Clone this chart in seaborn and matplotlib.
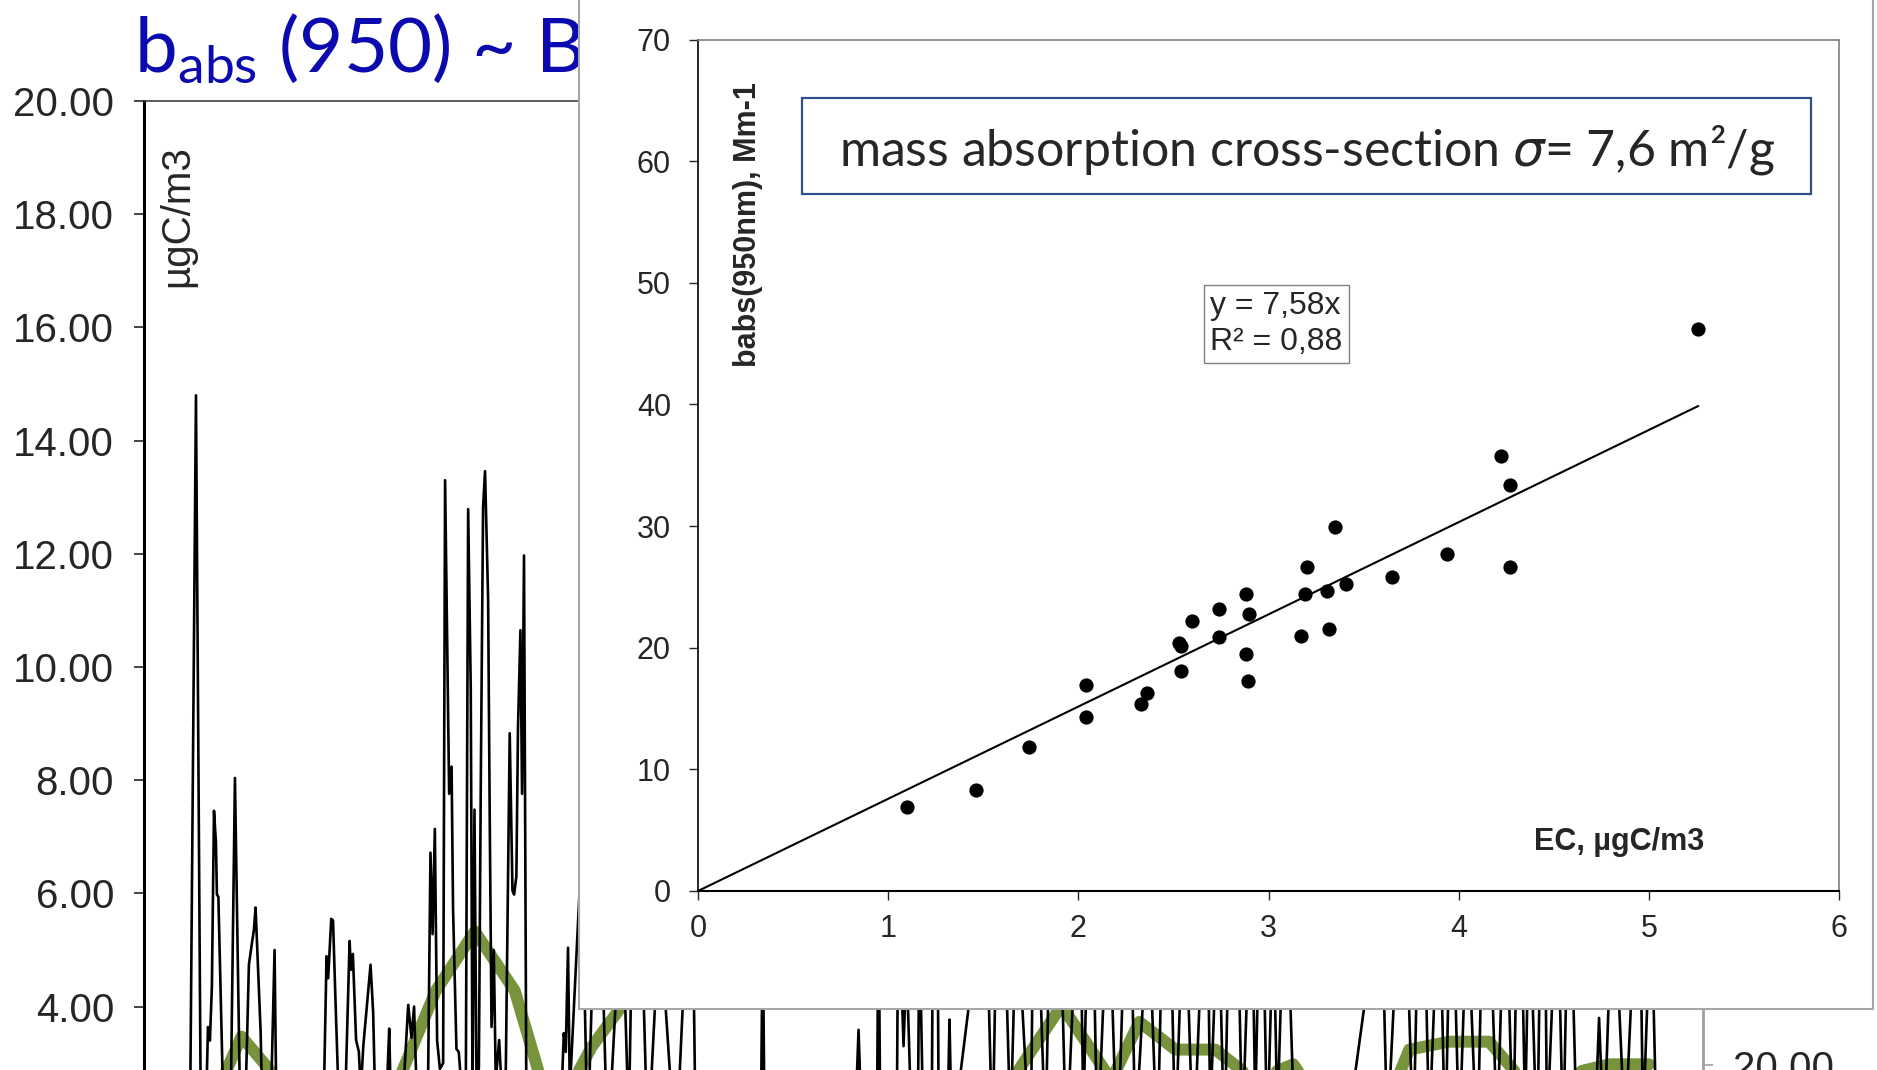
import numpy as np
import pandas as pd
import matplotlib
matplotlib.use("Agg")
import matplotlib.pyplot as plt
from matplotlib.patches import Rectangle
import seaborn as sns

# ---- background time series (hours since start), ugC/m3 ----
black_hr = [0, 14, 28.3, 32, 35.1, 38.2, 39.4, 40.6, 41.8, 43.1, 44.3, 44.9, 45.8, 49.2, 51.7,
            53.5, 56, 59.4, 62.2, 64.6, 66.5, 67.7, 68.7, 71.8, 73.2, 77.5, 80.4, 81.8, 89.8,
            102.2, 110.8, 112.4, 113.4, 115.3, 116.4, 117.9, 119.5, 123.1, 126.6, 127.4, 128.6,
            130.6, 132.3, 133.5, 135, 139.5, 141.1, 142.8, 148.3, 151, 152.6, 157.5, 162.7, 164.7,
            166.3, 168.6, 172.9, 175, 176.4, 177.7, 179.1, 180.5, 182.2, 184.2, 185.4, 186.7,
            187.9, 189.4, 190.3, 192.4, 193.8, 195.7, 198.2, 199.6, 201.2, 202.3, 203.5, 204.7,
            206.2, 207.4, 208.8, 210, 211.9, 212.9, 214, 215.4, 216.6, 218.7, 220.3, 222.8, 225.2,
            226.9, 227.9, 229.3, 230.3, 231.8, 232.8, 234, 235.5, 240.6, 249.8, 257.2, 258.5,
            259.7, 261.1, 262.2,
            269.5, 273.2, 279.4, 285.5, 294.2, 298.5, 302.8, 310.2, 317.5, 327.4, 337.2, 339.7,
            350, 365, 379.7, 381, 382.3, 410, 437.5, 440, 442.5, 451.3, 452.3, 453.5, 463.5,
            464.5, 467.7, 469.6, 472.6, 476.5, 477.5, 480, 485, 486, 488.5, 489.5, 494.5, 496,
            497.5,
            518.2, 522.5, 526.8, 533.6, 537.3, 545.9, 548.3, 555.1, 560.6, 568, 576, 578.5, 582.8,
            587.1, 593.9, 599.4, 606.2, 610.5, 618.5, 624, 629.6, 635.1, 640.6, 646.2, 654.2,
            656.6, 661.5, 665.3, 670.8, 676.3, 681.9, 684.3, 688, 691.7, 695.4, 697.9, 702.8,
            708.9, 720, 740,
            761.9, 765.6, 775.4, 781.6, 786.5, 791.4, 797.6, 801.3, 805, 809.9, 814.8, 821, 825.9,
            833.3, 838.2, 843.1, 846.8, 850.5, 853, 857.9, 861.6, 864, 870.2, 873.9, 877.6, 882.5,
            893, 896, 899, 904.6, 912, 920.6, 923.1, 928, 931.7, 933]
black_val = [1.3, 1.1, 1.8, 14.8, 1.5, 2.2, 3.64, 3.4, 4.35, 7.46, 6.9, 5.98, 5.94, 1.8, 1.5,
             2.5, 8.04, 1.8, 2.0, 4.74, 5.13, 5.36, 5.75, 3.57, 1.8, 1.5, 5.0, 1.5, 1.2,
             1.0, 2.5, 4.89, 4.5, 5.55, 5.52, 4.12, 2.7, 1.5, 5.16, 4.65, 4.93,
             3.41, 3.2, 2.5, 3.29, 4.74, 3.9, 1.8, 1.6, 3.61, 1.5, 1.4, 4.03, 3.45,
             4.0, 1.8, 1.5, 2.9, 6.72, 5.28, 7.14, 3.4, 2.9, 3.0, 13.3, 10.4,
             7.76, 8.24, 5.75, 3.25, 3.2, 2.5, 2.8, 12.79, 9.64, 2.5, 7.48, 2.8,
             2.9, 8.0, 12.83, 13.46, 11.2, 7.3, 3.64, 5.0, 2.7, 3.41, 2.5, 2.9, 8.83,
             6.05, 5.98, 6.3, 8.93, 10.65, 7.76, 11.97, 2.0, 1.5, 1.5, 2.5, 3.53,
             3.2, 5.04, 2.5,
             6.8, 1.6, 7.9, 1.4, 6.1, 1.9, 9.2, 1.5, 5.6, 1.3, 7.4, 1.7,
             1.2, 1.5, 1.4, 5.5, 1.3, 1.1, 1.6, 3.59, 1.4, 1.8, 6.0, 1.5, 1.7,
             6.2, 3.3, 4.8, 1.9, 2.0, 5.5, 1.6, 1.5, 7.0, 6.2, 1.4, 1.5, 3.77,
             1.6,
             6.4, 1.5, 8.7, 1.8, 5.9, 1.3, 7.6, 1.6, 9.8, 1.4, 6.9, 2.0, 8.1,
             1.5, 6.3, 1.2, 7.7, 1.7, 5.8, 1.4, 8.8, 1.6, 6.5, 1.3, 7.2,
             2.1, 6.0, 1.5, 9.4, 1.7, 6.6, 2.2, 7.3, 1.6, 5.7, 2.0, 6.8,
             1.4, 1.3, 1.6,
             6.2, 1.7, 7.5, 1.5, 8.3, 1.8, 6.4, 1.4, 7.1, 1.6, 5.9, 1.3, 8.0,
             1.7, 6.7, 1.5, 7.8, 2.0, 6.1, 1.4, 9.0, 1.8, 6.3, 1.6, 7.0, 1.5,
             1.5, 3.8, 1.6, 6.4, 1.7, 7.2, 1.9, 6.0, 1.4, 1.3]

# daily means (green), two segments with a data gap between them
green_hr_1 = [11.7, 35.7, 60, 83.7, 107.7, 131.7, 156, 179.7, 203.7, 228.3, 251.7, 275.7,
              299.7, 323.7, 347.7, 371.7]
green_val_1 = [2.1, 1.9, 3.47, 2.67, 2.3, 2.2, 2.65, 4.28, 5.33, 4.28, 2.0, 3.29,
               4.22, 4.9, 5.6, 4.6]
green_hr_2 = [513.9, 537.9, 565, 595.7, 612.9, 635.1, 659.7, 683.7, 707.7, 731.7, 755.7,
              779.1, 803.7, 828.3, 851.7, 876.3, 902.2, 926.8]
green_val_2 = [1.9, 2.85, 4.02, 2.7, 3.73, 3.24, 3.24, 2.7, 2.98, 2.0, 1.6,
               3.24, 3.38, 3.38, 2.6, 2.8, 2.98, 2.98]

# ---- inset scatter: EC vs babs(950) ----
ec = [1.10, 1.46, 1.74, 2.04, 2.04, 2.33, 2.36, 2.53, 2.54, 2.54, 2.60, 2.74, 2.74,
      2.88, 2.90, 2.88, 2.89, 3.17, 3.19, 3.20, 3.31, 3.32, 3.35, 3.41, 3.65, 3.94,
      4.22, 4.27, 4.27, 5.26]
babs = [6.9, 8.3, 11.8, 16.9, 14.3, 15.4, 16.3, 20.4, 20.1, 18.1, 22.2, 23.2, 20.9,
        24.4, 22.8, 19.5, 17.3, 21.0, 24.4, 26.6, 24.7, 21.5, 29.9, 25.2, 25.8, 27.7,
        35.8, 33.4, 26.6, 46.2]
slope = 7.58
r2 = 0.88

W, H = 1877, 1070
def fx(px):
    return px / W
def fy(py):
    return 1 - py / H

sns.set_style("white")
plt.rcParams['font.family'] = ['Liberation Sans', 'DejaVu Sans']

fig = plt.figure(figsize=(W / 100, H / 100), dpi=100)

# background axes (extends below the visible slide)
ax_bg = fig.add_axes([fx(144), fy(1233), fx(1703) - fx(144), (1233 - 101) / H])
ax_bg.set_zorder(0)
gdf = pd.DataFrame({
    'hr': green_hr_1 + green_hr_2,
    'val': green_val_1 + green_val_2,
    'seg': [1] * len(green_hr_1) + [2] * len(green_hr_2),
})
sns.lineplot(data=gdf, x='hr', y='val', units='seg', estimator=None, sort=False,
             color='#77933C', lw=8.6, ax=ax_bg, legend=False)
sns.lineplot(x=black_hr, y=black_val, estimator=None, sort=False, color='black',
             lw=1.9, ax=ax_bg)
ax_bg.set_xlim(0, 960)
ax_bg.set_ylim(0, 20)
yt = np.arange(4, 21, 2)
ax_bg.set_yticks(yt)
ax_bg.set_yticklabels([f"{v:.2f}" for v in yt])
ax_bg.set_xticks([])
ax_bg.set_xlabel('')
ax_bg.set_ylabel('')
ax_bg.tick_params(axis='y', direction='out', length=7.5, width=1.2, pad=14, labelsize=29,
                  left=True)
ax_bg.spines['left'].set_color('black')
ax_bg.spines['left'].set_linewidth(2.2)
ax_bg.spines['top'].set_color('#404040')
ax_bg.spines['top'].set_linewidth(1.2)
ax_bg.spines['right'].set_color('#A0A0A0')
ax_bg.spines['right'].set_linewidth(2.0)
ax_bg.spines['bottom'].set_visible(False)

ax_r = ax_bg.twinx()
ax_r.set_ylim(5.15, 105.15)
rt = np.arange(20, 101, 10)
ax_r.set_yticks(rt)
ax_r.set_yticklabels([f"{v:.2f}" for v in rt])
ax_r.tick_params(axis='y', direction='out', length=7.5, width=1.2, pad=14, labelsize=29,
                 color='#A0A0A0', right=True)
for s in ax_r.spines.values():
    s.set_visible(False)

fig.text(fx(177), fy(216), 'µgC/m3', rotation=90, ha='center', va='center', fontsize=29,
         zorder=1)

fig.text(fx(134), fy(72), r'$\mathregular{b_{abs}}$ (950) ~ BC', fontsize=55,
         family='Lato', color='#0A0AAF', va='baseline', ha='left', zorder=1)

# inset panel
fig.add_artist(Rectangle((fx(579), fy(1009)), fx(1873) - fx(579), 1.2,
                         transform=fig.transFigure, facecolor='white',
                         edgecolor='#A6A6A6', lw=1.5, zorder=4))

ax_in = fig.add_axes([fx(698), fy(891), fx(1839) - fx(698), (891 - 39.5) / H])
ax_in.set_zorder(5)
sns.scatterplot(x=ec, y=babs, ax=ax_in, color='black', s=105, linewidth=0, zorder=3)
xfit = np.array([0, max(ec)])
sns.lineplot(x=xfit, y=slope * xfit, ax=ax_in, color='black', lw=1.5, zorder=2)
ax_in.set_xlim(0, 6)
ax_in.set_ylim(0, 70)
ax_in.set_xticks(range(0, 7))
ax_in.set_yticks(range(0, 71, 10))
ax_in.tick_params(direction='out', length=6.5, width=1, labelsize=22, bottom=True,
                  left=True)
ax_in.tick_params(axis='y', pad=13)
ax_in.tick_params(axis='x', pad=10)
ax_in.spines['left'].set_color('black')
ax_in.spines['left'].set_linewidth(1.2)
ax_in.spines['bottom'].set_color('black')
ax_in.spines['bottom'].set_linewidth(1.5)
for s in ['top', 'right']:
    ax_in.spines[s].set_color('#808080')
    ax_in.spines[s].set_linewidth(1.2)
ax_in.set_xlabel('')
ax_in.set_ylabel('')

fig.text(fx(748), fy(225), 'babs(950nm), Mm-1', rotation=90, ha='center', va='center',
         fontsize=22, fontweight='bold', zorder=6)
fig.text(fx(1619), fy(842), 'EC, µgC/m3', ha='center', va='center', fontsize=22,
         fontweight='bold', zorder=6)

fig.text(fx(1210), fy(324), f"y = {slope:.2f}x".replace('.', ',') + "\n" +
         f"R² = {r2:.2f}".replace('.', ','), ha='left', va='center', fontsize=23,
         linespacing=1.25, zorder=6,
         bbox=dict(boxstyle='square,pad=0.2', fc='white', ec='#808080', lw=1))

fig.add_artist(Rectangle((fx(802), fy(194)), fx(1811) - fx(802), (194 - 98) / H,
                         transform=fig.transFigure, facecolor='white',
                         edgecolor='#2F4F8A', lw=1.6, zorder=6))
fig.text(fx(1307), fy(150), r'mass absorption cross-section $\sigma$= 7,6 m²/g',
         ha='center', va='center', fontsize=36, family='Lato', zorder=7)

fig.savefig('out.png', dpi=100)
